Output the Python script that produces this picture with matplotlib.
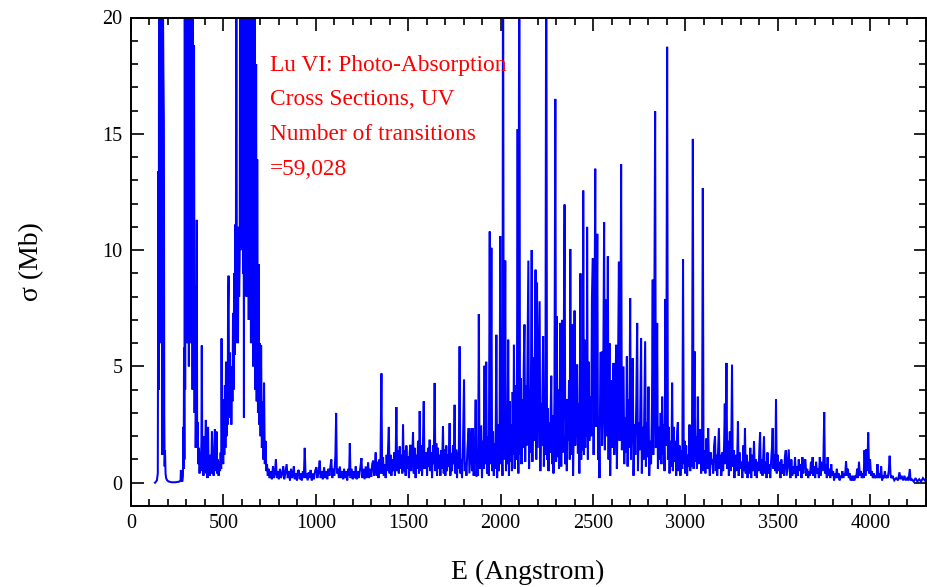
import matplotlib
matplotlib.use("Agg")
import matplotlib.pyplot as plt
from matplotlib.ticker import MultipleLocator

# ---- data (energy in Angstrom, sigma in Mb) ----
region_far_uv = [
    (130,0.0),(140,0.1),(145,0.4),(148,13.4),(150,4.0),(152,24),(154,10),(156,25),(158,6),(160,26),
    (162,14),(164,25),(166,9),(168,24),(170,1.2),(172,22),(175,18),(178,15.5),(180,3.0),(182,0.7),
    (184,1.4),(187,0.4),(190,0.2),(196,0.1),(205,0.05),(220,0.02),(240,0.02),(262,0.05),(268,0.1),
    (270,0.55),(273,0.1),(278,0.05),(281,0.3),(283,2.4),(285,0.6),(287,5.8),(289,1.0),(291,24),(293,4),
    (295,25),(297,8),(299,25),(301,12),(303,25),(305,6),(307,25),(309,10),(311,25),(313,5),(315,25),
    (317,9),(319,25),(321,6),(323,25),(325,11),(327,25),(329,7),(331,25),(333,4),(335,24),(337,6),
    (339,12),(341,18.8),(344,3.0),(347,8.5),(350,1.5),(353,4.0),(356,11.3),(358,2.0),(361,2.6),
    (364,0.8),(368,1.5),(371,0.4),(375,1.3),(378,0.5),(381,1.8),(383,5.9),(386,0.6),(389,1.6),
    (392,0.3),(395,2.0),(398,0.5),(401,1.2),(405,2.7),(408,0.4),(411,1.3),(414,0.2),(417,2.4),
    (420,0.6),(423,1.0),(427,0.3),(430,1.2),(434,0.4),(438,2.2),(441,0.5),(444,1.1),(447,0.3),
    (450,1.4),(454,2.3),(457,0.5),(460,1.0),(463,2.2),(466,0.4),(470,1.0),(474,0.3),(478,0.9),
    (482,0.5),(485,1.3),(488,0.6),(490,6.2),(493,1.0),(496,2.5),(499,0.8),(502,3.6),(505,1.2),
    (508,4.2),(511,1.5),(514,5.2),(517,2.0),(520,4.0),(523,2.5),(525,7.5),(528,8.9),(531,2.8),
    (534,5.6),(537,3.0),(540,5.0),(543,2.5),(546,4.8),(549,3.5),(552,7.3),(555,4.0),(558,9.0),
    (561,5.5),(564,11.1),(567,6.0),(570,25),(573,7.0),(576,10),(579,6),(582,11),(585,8),(588,9.5),
    (591,25),(594,10),(597,25),(600,12),(603,25),(606,9),(608,25),(611,2.8),(614,25),(617,10),
    (620,9.9),(622,25),(625,8),(628,25),(631,12),(634,25),(637,7),(640,25),(643,10),(646,25),(649,6),
    (652,25),(655,9),(658,25),(661,5),(664,25),(667,8),(670,24),(673,4),(677,18.0),(680,3.5),
    (683,13.9),(687,3.0),(691,9.4),(694,2.5),(698,6.0),(701,2.0),(704,5.9),(708,1.5),(712,3.5),
    (716,1.0),(720,4.3),(724,0.8),(728,1.8),(732,0.5),(736,0.8),(740,0.3),
]

region_mid_uv = [
    (744,0.6),(750,0.2),(756,0.5),(762,0.15),(768,0.7),(773,0.2),(778,0.4),(784,1.0),(789,0.2),
    (795,0.5),(800,0.15),(806,0.6),(812,0.2),(818,0.4),(824,0.7),(829,0.15),(835,0.4),(842,0.8),
    (848,0.2),(854,0.5),(860,0.1),(866,0.6),(872,0.2),(877,0.4),(881,0.7),(886,0.15),(892,0.4),
    (898,0.1),(903,0.5),(908,0.55),(913,0.15),(918,0.4),(924,0.1),(930,0.5),(935,0.2),(940,1.5),
    (945,0.2),(950,0.4),(956,0.1),(962,0.45),(967,0.2),(972,0.55),(978,0.1),(984,0.4),(990,0.15),
    (996,0.5),(1003,0.67),(1008,0.2),(1014,0.4),(1021,0.95),(1026,0.2),(1032,0.5),(1038,0.15),
    (1045,0.67),(1050,0.2),(1056,0.5),(1062,0.15),(1068,0.6),(1074,0.3),(1079,0.7),(1084,1.0),
    (1089,0.2),(1095,0.6),(1100,0.3),(1106,1.2),(1110,3.0),(1114,0.4),(1120,0.6),(1125,0.2),
    (1130,0.7),(1136,0.2),(1142,0.5),(1148,0.15),(1153,0.6),(1158,0.2),(1164,0.5),(1170,0.1),
    (1176,0.6),(1180,0.3),(1184,1.7),(1188,0.2),(1194,0.6),(1200,0.15),(1206,0.5),(1211,0.2),
    (1216,0.7),(1221,0.15),(1227,0.5),(1233,0.2),(1240,0.6),(1247,1.06),(1252,0.2),(1258,0.6),
    (1264,0.15),(1270,0.7),(1276,0.2),(1283,0.88),(1288,0.2),(1294,0.6),(1300,0.25),(1305,0.8),
    (1310,0.95),(1315,0.3),(1320,0.8),(1324,1.3),(1329,0.3),(1334,0.9),(1339,0.2),(1344,1.0),
    (1349,0.4),(1355,4.7),(1359,0.4),(1364,1.1),(1368,0.3),(1373,0.8),(1378,0.2),(1383,1.2),
    (1388,0.5),(1391,1.5),(1395,2.4),(1399,0.4),(1404,1.2),(1409,0.3),(1414,1.0),(1419,0.5),
    (1424,1.3),(1428,0.3),(1432,1.1),(1436,3.25),(1440,0.5),(1445,1.4),(1449,0.4),(1454,1.56),
    (1458,0.6),(1463,1.2),(1468,0.4),(1472,2.5),(1476,0.5),(1481,1.4),(1486,0.3),(1490,1.6),
    (1495,0.6),(1499,1.13),(1504,0.2),(1508,1.3),(1512,1.63),(1516,0.5),(1521,1.0),(1526,2.17),
    (1530,0.4),(1535,1.5),(1540,0.2),(1544,1.2),(1549,0.6),(1553,1.8),(1558,0.4),(1562,3.08),
    (1566,0.5),(1571,1.6),(1575,0.3),(1579,1.4),(1584,3.5),(1588,0.6),(1593,1.2),(1598,1.3),
    (1602,0.3),(1607,1.5),(1611,0.7),(1616,1.85),(1620,0.5),(1625,1.3),(1629,0.2),(1634,1.6),
    (1638,0.8),(1643,4.29),(1647,0.5),(1652,1.7),(1656,0.3),(1661,1.5),(1665,0.6),(1670,1.2),
    (1674,0.3),(1679,1.4),(1683,0.6),(1688,2.42),(1692,0.4),(1697,1.42),(1701,0.3),(1706,1.6),
    (1710,0.5),(1715,1.2),(1719,0.7),(1724,2.56),(1728,0.3),(1733,1.28),(1737,0.5),(1742,1.6),
    (1746,0.8),(1751,3.35),(1755,0.4),(1760,1.42),(1764,0.2),(1769,1.3),(1773,0.6),(1778,5.86),
    (1782,0.4),(1787,0.99),(1791,0.2),(1796,1.5),(1802,4.43),(1806,0.5),(1811,0.85),(1815,0.3),
    (1820,1.4),(1827,2.35),(1831,0.4),(1836,1.42),(1841,2.35),(1845,0.5),(1850,2.35),(1854,0.3),
    (1860,1.2),(1865,3.57),(1869,0.27),(1874,1.0),
]

region_near_uv = [
    (1878,0.3),(1882,7.25),(1886,0.6),(1890,2.4),(1895,2.42),(1899,0.2),(1904,1.8),(1908,0.6),
    (1913,5.03),(1917,0.8),(1922,5.2),(1926,0.4),(1931,2.0),(1936,0.3),(1941,10.8),(1945,0.8),
    (1950,10.1),(1954,0.5),(1959,2.2),(1963,0.3),(1968,1.7),(1972,0.6),(1977,6.36),(1981,0.2),
    (1986,2.5),(1990,0.5),(1994,1.4),(1998,10.6),(2002,0.8),(2006,2.6),(2010,0.3),(2013,26),
    (2017,1.0),(2021,3.0),(2025,9.55),(2029,0.5),(2033,2.3),(2037,0.8),(2041,6.15),(2045,0.3),
    (2049,3.5),(2053,0.9),(2057,2.5),(2061,0.5),(2065,3.9),(2069,1.2),(2072,5.93),(2076,0.6),
    (2080,4.2),(2084,1.0),(2088,3.0),(2092,15.2),(2096,0.4),(2101,26),(2105,1.2),(2109,4.5),
    (2113,0.8),(2117,3.6),(2121,1.5),(2125,5.0),(2129,6.8),(2133,0.9),(2137,4.2),(2141,1.6),
    (2145,5.2),(2150,9.55),(2154,0.6),(2158,4.0),(2162,1.3),(2168,10.0),(2172,0.9),(2176,5.4),
    (2180,1.8),(2184,4.6),(2189,9.16),(2193,1.0),(2197,8.6),(2201,1.5),(2206,4.8),(2211,7.8),
    (2215,0.5),(2219,3.4),(2223,1.6),(2227,4.2),(2230,6.3),(2234,0.7),(2238,3.0),(2242,1.2),
    (2247,26),(2251,1.0),(2255,3.2),(2259,0.5),(2263,2.6),(2267,1.3),(2271,3.1),(2274,4.6),
    (2278,0.8),(2282,2.9),(2286,0.4),(2291,3.5),(2296,16.5),(2300,0.9),(2304,7.15),(2308,1.1),
    (2312,4.0),(2316,0.6),(2320,3.3),(2324,6.87),(2328,0.7),(2332,7.0),(2336,1.3),(2340,3.8),
    (2346,11.96),(2350,0.8),(2354,2.6),(2358,0.5),(2362,3.6),(2366,1.8),(2370,4.4),(2374,1.0),
    (2377,10.05),(2381,1.2),(2385,3.2),(2388,6.8),(2392,0.3),(2396,2.4),(2400,7.4),(2404,1.6),
    (2409,3.8),(2414,5.08),(2418,1.26),(2422,3.4),(2426,0.4),(2432,9.0),(2436,1.0),(2440,3.6),
    (2444,1.4),(2447,12.56),(2451,1.2),(2454,6.15),(2458,1.5),(2462,4.4),(2466,2.0),(2468,11.0),
    (2472,1.0),(2476,5.2),(2480,1.8),(2486,3.71),(2490,2.0),(2494,7.9),(2499,9.66),(2503,1.2),
    (2507,5.0),(2512,13.5),(2516,2.4),(2519,6.0),(2523,10.7),(2527,1.0),(2531,2.8),(2535,0.2),
    (2540,5.58),(2545,5.6),(2549,1.6),(2554,3.0),(2560,11.2),(2564,1.4),(2568,7.87),(2572,2.0),
    (2576,3.6),(2580,9.73),(2584,1.0),(2589,6.0),(2593,0.3),(2598,4.4),(2602,1.5),(2606,3.0),
    (2611,5.15),(2615,1.2),(2620,3.2),(2625,5.93),(2629,0.6),(2634,3.8),(2640,9.5),(2644,1.8),
    (2648,4.5),(2652,13.7),(2656,1.4),(2660,3.0),(2665,5.0),(2669,0.8),(2674,2.8),(2679,1.3),
    (2683,5.43),(2687,0.7),(2692,3.6),(2696,1.5),(2701,7.94),(2705,1.0),(2710,3.0),(2715,5.36),
    (2719,0.3),(2724,2.5),(2729,1.2),(2734,3.5),(2739,6.87),(2743,0.5),(2748,2.6),(2753,1.4),
    (2760,6.22),(2764,0.4),(2769,2.4),(2774,1.0),(2782,6.08),(2786,0.7),(2791,2.6),(2795,1.1),
    (2800,4.13),(2804,0.3),(2809,1.8),(2814,0.8),(2819,3.4),(2823,8.73),(2826,1.2),(2830,4.0),
    (2836,15.97),(2840,1.5),(2844,3.0),(2847,6.87),(2851,0.6),(2856,2.4),(2861,1.0),(2866,3.0),
    (2870,0.8),(2874,3.7),(2878,1.2),(2882,2.5),(2887,0.5),(2892,7.9),(2896,1.6),(2901,18.74),
    (2905,1.0),(2909,2.4),(2914,0.4),(2919,1.8),(2924,0.7),(2928,4.3),(2932,0.5),(2937,2.4),
    (2941,0.9),(2946,1.8),(2950,0.3),(2955,2.2),(2959,2.6),(2963,0.5),(2968,1.6),(2973,0.3),
    (2978,1.4),(2983,0.6),(2987,9.6),(2991,0.8),(2995,1.8),(2999,0.4),(3004,1.6),(3009,0.3),
    (3014,1.2),(3018,0.7),(3022,2.5),(3026,0.5),(3031,1.4),(3035,0.7),(3040,14.78),(3044,0.6),
    (3049,5.65),(3053,0.9),(3058,2.0),(3062,0.6),(3067,3.7),(3071,0.8),(3076,1.6),(3081,2.3),
    (3085,0.4),(3090,1.8),(3094,12.67),(3098,0.5),
]

region_visible = [
    (3103,1.4),(3108,0.4),(3113,1.9),(3118,0.6),(3123,2.35),(3127,0.9),(3132,0.3),(3137,1.3),
    (3141,0.8),(3146,1.0),(3150,0.4),(3155,1.6),(3160,2.0),(3164,0.5),(3168,1.2),(3172,0.3),
    (3177,1.5),(3181,2.35),(3185,0.6),(3190,1.2),(3194,0.3),(3199,1.3),(3204,0.5),(3209,1.6),
    (3213,3.4),(3217,0.8),(3222,5.15),(3226,0.6),(3231,1.8),(3235,0.3),(3240,2.2),(3244,0.5),
    (3248,1.5),(3252,5.07),(3256,0.7),(3261,1.4),(3265,0.2),(3270,1.2),(3275,0.5),(3280,1.0),
    (3284,2.64),(3288,0.3),(3293,1.3),(3298,0.6),(3303,0.9),(3308,0.2),(3313,1.6),(3318,0.5),
    (3322,2.35),(3326,0.4),(3331,1.2),(3336,0.2),(3341,0.9),(3346,0.4),(3351,1.5),(3356,0.2),
    (3361,1.2),(3366,0.5),(3371,1.78),(3376,0.3),(3381,1.0),(3386,0.2),(3391,0.9),(3396,0.5),
    (3400,1.5),(3404,2.16),(3408,0.4),(3413,1.0),(3417,0.3),(3421,1.2),(3425,2.0),(3429,0.4),
    (3434,0.9),(3439,0.2),(3444,1.3),(3449,0.4),(3454,0.8),(3459,0.2),(3464,1.0),(3468,1.5),
    (3472,2.35),(3476,0.6),(3481,1.2),(3486,0.5),(3490,3.6),(3494,0.4),(3499,1.2),(3504,0.5),
    (3509,0.9),(3514,0.2),(3519,1.0),(3524,0.4),(3529,0.8),(3534,0.3),(3538,1.1),(3543,1.4),
    (3548,0.3),(3553,0.8),(3559,1.43),(3563,0.6),(3568,0.2),(3573,1.0),(3578,0.3),(3583,0.7),
    (3588,0.4),(3593,1.1),(3598,0.2),(3603,0.7),(3608,0.3),(3613,1.0),(3618,0.5),(3623,0.8),
    (3628,0.2),(3633,1.1),(3638,0.4),(3643,0.9),(3649,1.0),(3654,0.3),(3659,0.6),(3664,0.2),
    (3669,0.5),(3674,0.3),(3679,0.9),(3684,0.4),(3688,1.1),(3692,0.3),(3697,0.7),(3702,0.2),
    (3707,0.9),(3712,0.4),(3717,0.6),(3722,0.2),(3727,1.1),(3731,0.3),(3736,0.9),(3741,0.5),
    (3746,0.8),(3751,3.04),(3755,0.4),(3760,0.8),(3765,0.2),(3769,1.1),(3774,0.3),(3779,0.6),
    (3784,0.2),(3789,0.8),(3794,0.3),(3799,0.5),(3804,0.1),(3809,0.4),(3814,0.2),(3819,0.6),
    (3824,0.2),(3829,0.4),(3834,0.1),(3839,0.3),(3844,0.2),(3849,0.5),(3854,0.2),(3859,0.4),
    (3864,0.3),(3869,0.92),(3874,0.3),(3879,0.6),(3884,0.2),(3889,0.4),(3894,0.1),(3899,0.3),
    (3904,0.1),(3909,0.3),(3914,0.1),(3919,0.3),(3924,0.2),(3929,0.6),(3934,0.2),(3939,0.9),
    (3944,0.3),(3949,0.5),(3954,0.2),(3959,0.4),(3964,0.2),(3969,1.4),(3974,0.3),(3979,1.45),
    (3984,0.5),(3989,2.16),(3994,0.4),(3999,1.0),(4004,0.3),(4009,0.5),(4014,0.2),(4019,0.4),
    (4024,0.2),(4029,0.3),(4034,0.2),(4039,0.8),(4044,0.2),(4049,0.4),(4054,0.2),(4059,0.7),
    (4064,0.1),(4069,0.3),(4074,0.2),(4079,0.5),(4084,0.2),(4089,0.3),(4094,0.2),(4100,0.5),
    (4105,1.16),(4110,0.3),(4115,0.2),(4120,0.3),(4130,0.1),(4140,0.2),(4150,0.1),(4158,0.45),
    (4163,0.15),(4170,0.3),(4178,0.1),(4185,0.3),(4192,0.1),(4200,0.2),(4207,0.1),(4214,0.59),
    (4218,0.1),(4225,0.15),(4235,0.05),(4245,0.2),(4255,0.05),(4265,0.15),(4275,0.05),(4285,0.2),
    (4295,0.1),(4300,0.15),
]

x_ticks = [0, 500, 1000, 1500, 2000, 2500, 3000, 3500, 4000]
y_ticks = [0, 5, 10, 15, 20]
annotation_lines = ["Lu VI: Photo-Absorption", "Cross Sections, UV",
                    "Number of transitions", "=59,028"]
x_label = "E (Angstrom)"
y_label = "σ (Mb)"

# ---- build series ----
points = region_far_uv + region_mid_uv + region_near_uv + region_visible
energy = [p[0] for p in points]
sigma = [p[1] for p in points]

SERIF = ["Liberation Serif", "DejaVu Serif"]
plt.rcParams["font.family"] = SERIF

W, H = 927, 587
fig = plt.figure(figsize=(W / 100, H / 100), dpi=100)
left, right, top, bottom = 131, 925.7, 17.5, 506
ax = fig.add_axes([left / W, 1 - bottom / H, (right - left) / W, (bottom - top) / H])

ax.plot(energy, sigma, color="#0000FF", lw=1.45, solid_joinstyle="miter")

ax.set_xlim(0, 4300)
ax.set_ylim(-1, 20)
ax.set_xticks(x_ticks)
ax.set_yticks(y_ticks)
ax.xaxis.set_minor_locator(MultipleLocator(100))
ax.yaxis.set_minor_locator(MultipleLocator(1))
ax.tick_params(which="both", direction="in", top=True, right=True, width=1.2, color="black")
ax.tick_params(which="major", length=9, labelsize=14.5, pad=6)
ax.tick_params(which="minor", length=5)
for s in ax.spines.values():
    s.set_linewidth(1.4)

# red annotation (data coordinates)
ann_y = [17.7, 16.25, 14.75, 13.25]
for txt, yy in zip(annotation_lines, ann_y):
    ax.text(751, yy, txt, color="#FF0000", fontsize=16.8, va="baseline", ha="left")

fig.text(528 / W, 1 - 572 / H, x_label, ha="center", va="center", fontsize=20)
fig.text(32 / W, 1 - 262 / H, y_label, ha="center", va="center", fontsize=20, rotation=90)

fig.savefig("out.png", dpi=100)
